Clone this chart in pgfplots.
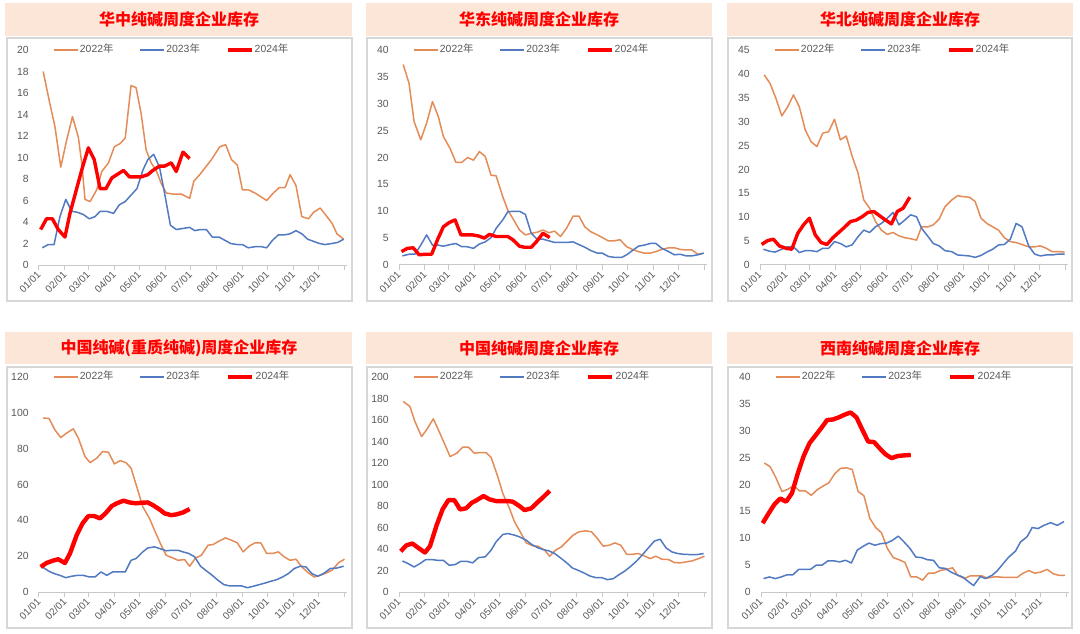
\documentclass[border=0pt]{standalone}
\usepackage{pgfplots}
\pgfplotsset{compat=1.18}
\usepackage{fontspec}
\setmainfont{Liberation Sans}
\newfontfamily\cjk{Noto Sans CJK SC}

\definecolor{c22}{RGB}{228,140,88}
\definecolor{c23}{RGB}{82,122,194}
\definecolor{c24}{RGB}{255,0,0}
\definecolor{titlebg}{RGB}{252,230,216}
\definecolor{boxgray}{RGB}{215,215,215}
\definecolor{lblgray}{RGB}{89,89,89}

% ---------- data: day of year, value ----------
\pgfplotstableread{
d v
5 18.0
13 15.0
19 12.9
26 9.1
33 11.6
40 13.8
47 11.9
51 9.5
55 6.1
61 5.9
69 7.0
75 8.7
83 9.5
90 11.0
97 11.3
103 11.8
110 16.7
116 16.5
122 14.1
128 10.7
134 9.5
140 8.8
146 7.6
152 6.7
160 6.6
170 6.6
180 6.2
185 7.8
192 8.4
198 9.0
206 9.8
216 11.0
223 11.2
230 9.8
237 9.3
243 7.0
250 7.0
258 6.7
266 6.3
272 6.0
280 6.7
287 7.2
294 7.2
300 8.4
307 7.4
314 4.5
322 4.3
328 4.9
336 5.3
342 4.7
350 3.9
356 2.9
364 2.4
}\hzA
\pgfplotstableread{
d v
4 1.6
11 1.9
18 1.9
25 4.5
32 6.1
39 5.0
46 4.9
53 4.7
60 4.3
67 4.5
73 5.0
81 5.0
89 4.8
96 5.6
103 5.9
110 6.5
117 7.1
124 8.8
130 9.8
137 10.3
144 9.1
150 6.7
157 3.7
164 3.3
172 3.4
180 3.5
186 3.2
193 3.3
200 3.3
207 2.6
215 2.6
222 2.3
229 2.0
237 1.9
243 1.9
250 1.6
258 1.7
266 1.7
272 1.6
279 2.3
286 2.8
293 2.8
300 2.9
307 3.2
314 2.9
321 2.4
328 2.2
335 2.0
342 1.9
350 2.0
357 2.1
364 2.4
}\hzB
\pgfplotstableread{
d v
2 3.3
9 4.3
16 4.3
23 3.3
31 2.6
37 4.8
45 7.1
52 9.1
59 10.9
66 9.8
73 7.1
80 7.1
87 8.1
93 8.4
101 8.8
108 8.2
116 8.2
122 8.2
130 8.4
136 8.8
144 9.2
150 9.2
158 9.5
164 8.7
172 10.5
180 9.9
}\hzC

\pgfplotstableread{
d v
5 37.3
12 33.8
18 26.7
26 23.3
33 26.4
40 30.4
47 27.6
53 23.9
61 21.7
68 19.1
75 19.1
82 20.0
89 19.5
96 21.1
103 20.2
110 16.7
116 16.6
124 12.7
130 10.2
137 8.4
144 6.5
151 5.6
158 5.9
165 6.1
172 6.5
179 6.0
186 6.3
193 5.3
200 6.8
208 9.1
215 9.1
222 7.1
229 6.2
237 5.6
243 5.1
250 4.5
257 4.5
264 4.7
272 3.4
279 2.9
286 2.5
293 2.2
300 2.2
307 2.5
314 2.9
322 3.2
329 3.2
336 2.9
343 2.8
350 2.8
357 2.0
364 2.2
}\hdA
\pgfplotstableread{
d v
4 1.7
12 2.0
19 2.0
26 3.7
33 5.6
40 3.7
47 3.7
53 3.5
61 3.8
68 4.0
75 3.4
81 3.4
89 3.1
96 3.9
103 4.3
110 5.1
116 6.8
124 8.4
130 9.9
137 10.0
144 10.0
151 9.4
158 5.9
165 4.8
172 4.8
179 4.5
186 4.2
193 4.2
200 4.2
208 4.3
215 3.8
222 3.3
229 2.7
237 2.2
243 2.2
250 1.6
258 1.4
266 1.4
272 1.9
279 2.7
286 3.5
293 3.7
300 4.0
307 4.0
314 3.1
322 2.5
329 1.9
336 2.0
343 1.7
350 1.7
357 1.9
364 2.2
}\hdB
\pgfplotstableread{
d v
3 2.5
10 3.1
17 3.2
24 1.9
32 2.0
39 2.0
46 4.7
53 7.1
60 7.9
67 8.4
74 5.6
81 5.6
88 5.6
95 5.4
102 5.0
108 5.7
116 5.3
122 5.3
130 5.3
136 4.7
144 3.5
150 3.3
158 3.3
164 4.3
172 5.9
180 5.1
}\hdC

\pgfplotstableread{
d v
5 39.8
12 38.0
19 34.9
26 31.2
33 33.1
40 35.6
47 33.1
54 28.3
61 25.8
68 24.8
75 27.6
82 27.9
89 30.5
96 26.2
103 27.0
110 22.8
117 19.3
124 13.6
131 11.9
138 9.1
145 7.3
152 6.4
159 6.8
166 6.1
173 5.7
180 5.5
187 5.2
193 8.0
201 8.0
207 8.4
214 9.6
221 12.2
229 13.6
236 14.5
243 14.3
250 14.2
257 13.3
264 9.8
271 8.7
278 8.0
285 7.3
292 5.7
299 4.9
306 4.7
313 4.3
321 3.8
328 3.8
335 4.0
342 3.5
349 2.8
357 2.8
364 2.7
}\hbA
\pgfplotstableread{
d v
4 3.3
11 2.9
18 2.7
26 3.3
33 3.8
40 3.8
47 2.6
54 3.0
61 3.0
68 2.8
75 3.5
82 3.5
89 4.9
96 4.5
103 3.8
110 4.2
117 5.9
124 7.3
131 6.8
138 8.0
145 8.7
152 9.8
159 11.0
166 8.4
173 9.4
180 10.5
187 10.1
193 7.7
201 5.9
207 4.5
214 4.0
221 3.0
229 2.8
236 2.1
243 2.0
250 1.9
257 1.6
264 2.0
271 2.7
278 3.3
285 4.2
292 4.3
299 5.4
306 8.7
313 8.0
321 4.0
328 2.3
335 1.9
342 2.1
349 2.1
357 2.3
364 2.3
}\hbB
\pgfplotstableread{
d v
2 4.3
9 5.1
16 5.4
23 4.0
31 3.5
38 3.3
45 6.6
52 8.4
59 9.8
66 6.3
73 4.7
80 4.3
87 5.7
94 6.8
101 7.9
108 9.1
115 9.4
122 10.1
129 11.0
136 11.2
143 10.3
150 9.4
157 8.6
164 11.2
171 11.9
179 14.2
}\hbC

\pgfplotstableread{
d v
5 97.1
12 96.9
19 90.5
26 86.2
33 88.7
41 91.1
47 85.9
55 75.6
61 72.2
69 74.7
76 78.4
83 78.0
90 71.5
97 73.3
104 72.2
110 69.1
118 56.9
124 47.6
132 41.1
138 34.5
146 26.1
152 20.5
160 19.0
166 17.7
174 18.1
180 14.4
187 19.0
194 20.5
202 26.1
208 26.5
215 28.4
223 30.2
230 28.9
237 27.4
244 22.4
251 25.6
258 27.4
265 27.4
272 21.5
279 21.5
286 22.4
293 19.6
300 17.7
307 18.3
314 14.0
322 10.6
329 8.4
336 9.3
343 10.6
350 12.1
358 16.4
365 18.3
}\zzA
\pgfplotstableread{
d v
4 14.0
11 11.8
18 10.3
25 9.3
32 8.0
39 8.8
46 9.3
53 9.3
60 8.4
67 8.4
74 11.2
81 9.3
88 11.2
95 11.2
103 11.2
110 17.7
116 18.7
124 22.4
130 24.6
138 25.2
144 24.3
152 23.0
158 23.3
166 23.3
172 22.4
179 21.5
186 19.6
193 14.4
200 11.8
207 9.3
214 6.5
221 4.1
228 3.4
235 3.4
242 3.4
249 2.4
256 3.2
263 4.1
270 5.0
277 6.0
284 6.9
291 8.4
298 10.3
305 13.1
312 14.4
319 14.0
326 10.3
333 8.8
340 10.3
348 13.1
356 13.4
364 14.4
}\zzB
\pgfplotstableread{
d v
2 14.0
9 16.2
16 17.4
23 18.3
31 16.2
37 21.5
45 31.7
52 38.3
59 42.4
66 42.4
73 41.1
80 44.2
87 48.0
93 49.5
101 51.0
108 50.0
116 49.5
122 49.8
130 50.0
136 48.5
144 46.1
150 43.9
158 42.9
164 43.3
172 44.4
180 46.3
}\zzC

\pgfplotstableread{
d v
5 177.3
13 172.6
19 158.6
27 144.6
33 150.9
41 161.1
47 150.9
55 136.9
61 126.0
69 129.1
76 134.7
83 134.7
90 129.1
97 129.7
104 129.7
110 125.3
118 107.3
124 91.8
132 77.8
138 65.3
146 54.4
152 45.7
160 42.9
166 42.6
174 38.9
180 33.3
187 38.9
194 42.0
202 48.2
208 52.9
215 56.0
223 56.9
230 56.0
237 49.8
244 42.6
251 43.5
258 45.7
265 43.5
272 35.1
279 35.1
286 35.8
293 33.6
300 31.1
307 33.3
314 30.5
322 30.2
329 27.4
336 27.1
343 28.0
350 28.9
358 31.1
365 33.3
}\zgA
\pgfplotstableread{
d v
4 28.9
11 26.4
18 23.3
25 26.4
32 30.2
39 30.2
46 29.5
53 29.5
60 24.9
67 25.5
74 28.6
81 28.6
88 27.1
95 32.0
103 32.7
110 38.9
116 46.7
124 53.5
130 54.4
138 52.9
144 51.3
152 48.2
158 44.5
166 41.1
172 39.5
179 38.3
186 35.8
193 31.7
200 27.4
207 22.4
214 20.2
221 17.7
228 14.9
235 13.4
242 13.4
249 11.5
256 12.4
263 16.2
270 19.6
277 24.0
284 28.9
291 34.8
298 41.1
305 47.3
312 49.1
319 41.1
326 37.3
333 35.8
340 35.1
348 34.8
356 34.8
364 35.8
}\zgB
\pgfplotstableread{
d v
2 37.9
9 43.5
16 45.1
23 41.1
31 36.7
37 42.6
45 62.2
52 76.8
59 85.5
66 85.5
73 76.8
80 77.8
87 83.0
93 85.5
101 89.3
108 86.2
116 84.6
122 84.6
130 84.6
136 84.0
144 79.9
150 76.2
158 77.8
164 82.4
172 88.0
180 94.2
}\zgC

\pgfplotstableread{
d v
4 24.0
11 23.3
18 21.2
25 18.7
32 19.1
39 19.8
46 18.8
53 18.8
60 18.0
67 19.0
74 19.7
81 20.3
88 22.0
95 23.0
102 23.1
109 22.8
116 18.7
123 17.9
130 13.7
137 12.0
144 11.0
151 8.1
158 6.4
165 6.0
172 5.5
179 2.8
186 2.8
193 2.2
200 3.5
207 3.5
214 4.0
221 4.2
229 4.5
235 3.1
243 2.5
250 3.0
256 3.0
264 3.0
270 2.6
278 2.8
284 2.8
292 2.7
298 2.7
306 2.7
312 3.4
320 4.0
327 3.5
334 3.7
342 4.2
349 3.4
356 3.1
363 3.1
}\xnA
\pgfplotstableread{
d v
3 2.5
10 2.8
17 2.5
24 2.8
31 3.2
38 3.2
45 4.2
52 4.2
59 4.2
66 5.0
73 5.0
80 5.8
87 5.8
94 5.6
101 5.9
108 5.4
115 7.8
122 8.5
129 9.1
136 8.7
143 9.0
150 9.1
157 9.6
164 10.4
171 9.3
178 8.1
185 6.5
192 6.4
199 6.0
206 5.9
213 4.5
220 4.4
227 3.7
234 3.2
241 2.8
248 1.9
254 1.2
262 2.9
268 2.5
276 3.1
282 3.9
290 5.4
296 6.5
304 7.6
310 9.3
318 10.3
324 12.0
331 11.8
338 12.4
346 12.9
354 12.4
362 13.1
}\xnB
\pgfplotstableread{
d v
2 12.8
9 14.6
16 16.3
23 17.4
30 16.8
37 18.4
44 22.1
51 25.3
58 27.7
65 29.1
72 30.5
79 32.0
86 32.1
93 32.5
100 33.0
107 33.4
114 32.5
121 30.2
128 28.0
135 27.9
142 26.7
149 25.6
156 24.9
163 25.3
170 25.4
179 25.5
}\xnC

\pgfplotsset{
  panel/.style={
    scale only axis, width=154pt, height=107.5pt, anchor=south west,
    xmin=0, xmax=368, ymin=0,
    axis y line*=left, axis x line*=bottom,
    y axis line style={draw=none},
    x axis line style={draw={rgb,255:red,200;green,200;blue,200}, line width=0.5pt},
    xtick={0,31,59,90,120,151,181,212,243,273,304,334,365},
    xticklabels={01/01,02/01,03/01,04/01,05/01,06/01,07/01,08/01,09/01,10/01,11/01,12/01,},
    xtick style={draw={rgb,255:red,200;green,200;blue,200}, line width=0.5pt},
    tick align=outside, major tick length=2.5pt,
    ytick style={draw=none},
    xticklabel style={rotate=45, anchor=east, font=\fontsize{5}{6}\selectfont, text=lblgray, inner sep=1pt, yshift=-1pt},
    yticklabel style={font=\fontsize{5.2}{6}\selectfont, text=lblgray, inner sep=1pt, xshift=-1.5pt},
    /pgf/number format/assume math mode=true,
    clip=false,
    legend columns=3,
    legend style={draw=none, fill=none, at={(0.045,1)}, anchor=west, inner sep=0pt,
      font=\fontsize{5.2}{6}\selectfont, text=lblgray,
      nodes={inner sep=0.6pt},
      /tikz/every even column/.append style={column sep=12.5pt}},
    legend cell align=left,
    legend image code/.code={\draw[##1] (0pt,0pt) -- (12pt,0pt);},
  },
  s22/.style={c22, line width=0.75pt, line join=round},
  s23/.style={c23, line width=0.75pt, line join=round},
  s24a/.style={c24, line width=1.7pt, line join=round},
  s24b/.style={c24, line width=2.2pt, line join=round},
}

\newcommand\leg{\legend{2022{\cjk 年},2023{\cjk 年},2024{\cjk 年}}}

\begin{document}
\begin{tikzpicture}[x=0.5pt,y=0.5pt]
\fill[white] (0,0) rectangle (1080,633);
% title bars and frames
\foreach \xa/\xb in {5/352,366/712,727/1073}{
  \fill[titlebg] (\xa,597) rectangle (\xb,630);
  \fill[titlebg] (\xa,269) rectangle (\xb,301);
}
\foreach \xa/\xb in {7/352,367/712,728/1072}{
  \draw[boxgray, line width=0.6pt] (\xa,332) rectangle (\xb,595);
  \draw[boxgray, line width=0.6pt] (\xa,5) rectangle (\xb,266);
}
\tikzset{ttl/.style={text=c24, font=\cjk\bfseries\fontsize{8}{9}\selectfont}}
\node[ttl] at (179,614) {华中纯碱周度企业库存};
\node[ttl] at (539,614) {华东纯碱周度企业库存};
\node[ttl] at (900,614) {华北纯碱周度企业库存};
\node[ttl] at (179,285) {中国纯碱(重质纯碱)周度企业库存};
\node[ttl] at (539,285) {中国纯碱周度企业库存};
\node[ttl] at (900,285) {西南纯碱周度企业库存};

\begin{axis}[panel, at={(19.5pt,184pt)}, ymax=20, ytick={0,2,...,20}]
\addplot[s22] table[x=d,y=v] {\hzA};
\addplot[s23] table[x=d,y=v] {\hzB};
\addplot[s24a] table[x=d,y=v] {\hzC};
\leg
\end{axis}
\begin{axis}[panel, at={(199.5pt,184pt)}, ymax=40, ytick={0,5,...,40}]
\addplot[s22] table[x=d,y=v] {\hdA};
\addplot[s23] table[x=d,y=v] {\hdB};
\addplot[s24a] table[x=d,y=v] {\hdC};
\leg
\end{axis}
\begin{axis}[panel, at={(380pt,184pt)}, ymax=45, ytick={0,5,...,45}]
\addplot[s22] table[x=d,y=v] {\hbA};
\addplot[s23] table[x=d,y=v] {\hbB};
\addplot[s24a] table[x=d,y=v] {\hbC};
\leg
\end{axis}
\begin{axis}[panel, at={(19.5pt,20.5pt)}, ymax=120, ytick={0,20,...,120}]
\addplot[s22] table[x=d,y=v] {\zzA};
\addplot[s23] table[x=d,y=v] {\zzB};
\addplot[s24b] table[x=d,y=v] {\zzC};
\leg
\end{axis}
\begin{axis}[panel, at={(199.5pt,20.5pt)}, ymax=200, ytick={0,20,...,200}]
\addplot[s22] table[x=d,y=v] {\zgA};
\addplot[s23] table[x=d,y=v] {\zgB};
\addplot[s24b] table[x=d,y=v] {\zgC};
\leg
\end{axis}
\begin{axis}[panel, at={(380.5pt,20.5pt)}, ymax=40, ytick={0,5,...,40}]
\addplot[s22] table[x=d,y=v] {\xnA};
\addplot[s23] table[x=d,y=v] {\xnB};
\addplot[s24b] table[x=d,y=v] {\xnC};
\leg
\end{axis}
\end{tikzpicture}
\end{document}
